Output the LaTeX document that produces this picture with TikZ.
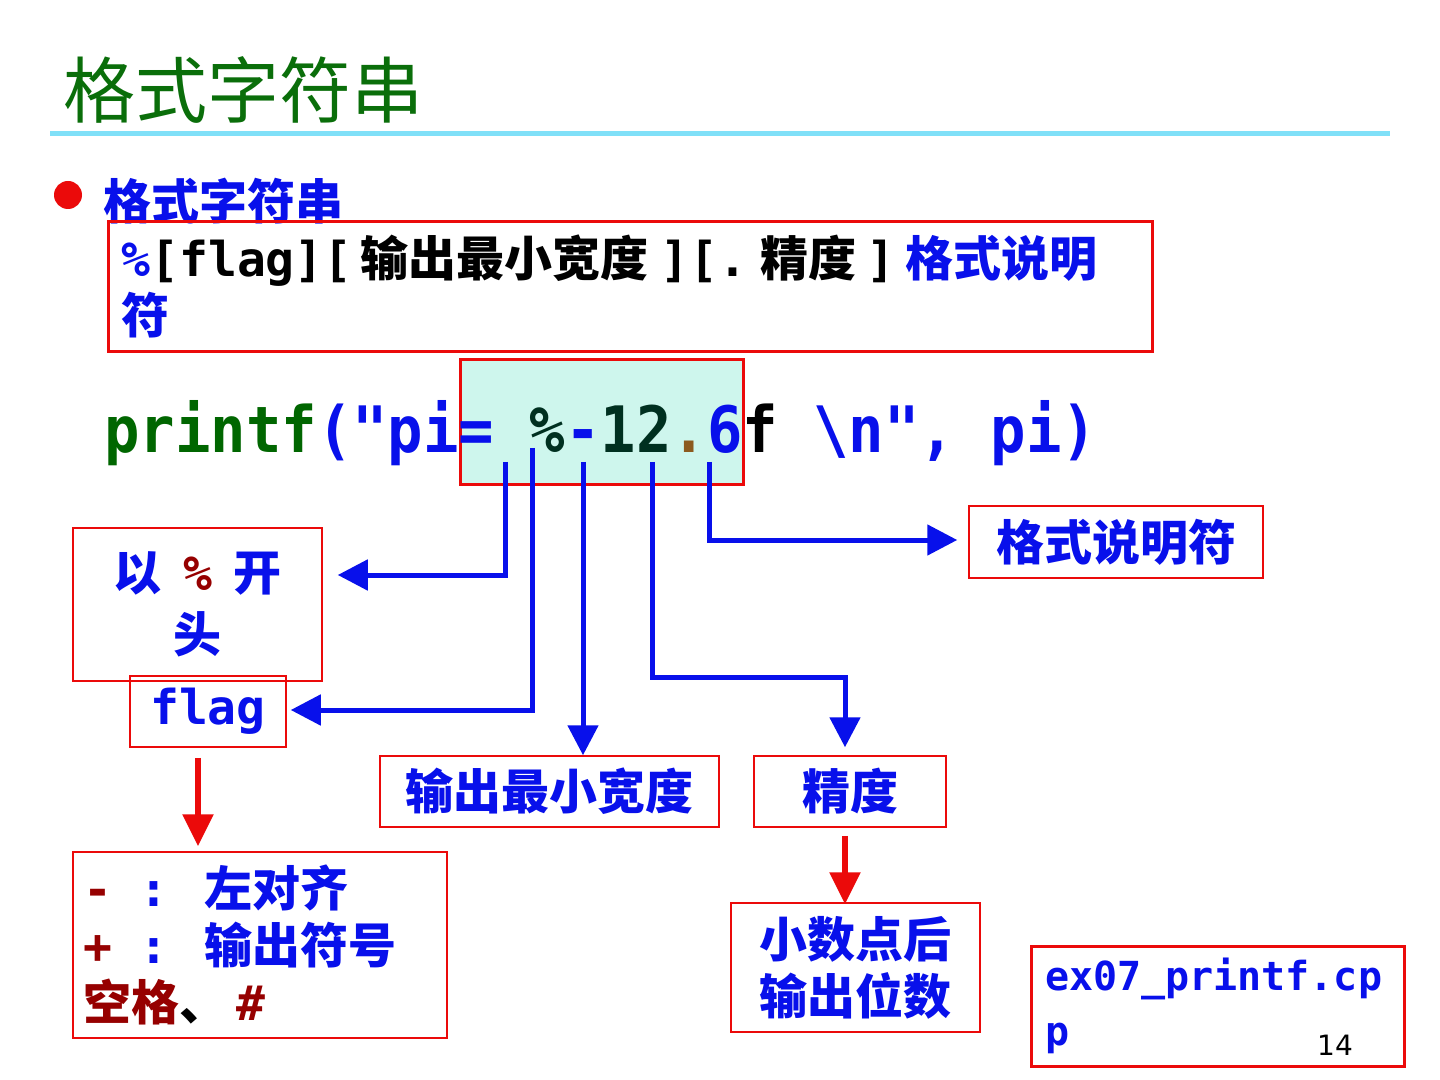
\documentclass[tikz,border=0pt]{standalone}
\usepackage{fontspec}
\setmainfont{Noto Sans CJK SC}
\setmonofont{DejaVu Sans Mono}
\newfontfamily\codefont{DejaVu Sans Mono}[FakeStretch=0.92]
\newfontfamily\numfont{DejaVu Sans}
\usetikzlibrary{arrows.meta,calc}
\definecolor{TitleClr}{RGB}{10,110,10}
\definecolor{RuleClr}{RGB}{128,224,248}
\definecolor{BlueClr}{RGB}{8,16,235}
\definecolor{RedClr}{RGB}{235,10,10}
\definecolor{MintClr}{RGB}{206,246,237}
\definecolor{CodeClr}{RGB}{0,102,0}
\definecolor{DarkClr}{RGB}{0,48,32}
\definecolor{BrownClr}{RGB}{140,90,30}
\definecolor{DarkRedClr}{RGB}{150,0,0}

\begin{document}
\begin{tikzpicture}[x=0.5pt,y=-0.5pt,
  lbl/.style={draw=RedClr,line width=0.75pt,inner sep=0pt,align=center,text=BlueClr,
    font=\bfseries\fontsize{24}{28.5}\selectfont},
  bluearr/.style={draw=BlueClr,line width=2.5pt,-{Triangle[length=15pt,width=15pt]}},
  redarr/.style={draw=RedClr,line width=2.75pt,-{Triangle[length=16pt,width=15pt]}}]
\fill[white] (0,0) rectangle (1440,1080);
\useasboundingbox (0,0) rectangle (1440,1080);

\node[anchor=west,inner sep=0pt,text=TitleClr,font=\fontsize{36}{40}\selectfont] (title) at (63,90) {格式字符串};
\draw[RuleClr,line width=2.5pt] (50,134) -- (1390,134);
\fill[RedClr] (68,195) circle (7pt);
\node[anchor=west,inner sep=0pt,text=BlueClr,font=\bfseries\fontsize{24}{28}\selectfont] (head) at (103,201) {格式字符串};

\node[lbl,line width=1.5pt,anchor=north west,minimum height=65pt,inner xsep=6.5pt,text width=509pt,align=left,text=black] (syntax) at (107,220)
  {{\ttfamily\color{BlueClr}\%}{\ttfamily[flag][}\hspace{4pt}输出最小宽度\hspace{6pt}{\ttfamily][.}\hspace{6.5pt}精度\hspace{5pt}{\ttfamily]}\hspace{5pt}\textcolor{BlueClr}{格式说明}\\\textcolor{BlueClr}{符}};

\node[draw=RedClr,line width=1.5pt,fill=MintClr,anchor=north west,minimum width=141.5pt,minimum height=62.5pt,inner sep=0pt] (spot) at (459,358) {};
\node[anchor=base west,inner sep=0pt,font=\codefont\bfseries\fontsize{32}{36}\selectfont] (code) at (104,452)
  {{\color{CodeClr}printf}{\color{BlueClr}("pi=} {\color{DarkClr}\%}{\color{BlueClr}-}{\color{DarkClr}12}{\color{BrownClr}.}{\color{BlueClr}6}f {\color{BlueClr}\textbackslash n", pi)}};

\coordinate (m1) at (505,462);
\coordinate (m2) at (532,448);
\coordinate (m3) at (583,462);
\coordinate (m4) at (652,462);
\coordinate (m5) at (709,462);

\node[lbl,minimum width=124.5pt,minimum height=76.5pt,font=\bfseries\fontsize{24}{31}\selectfont] (start) at (197.5,604.5)
  {以\hspace{11pt}{\ttfamily\color{DarkRedClr}\%}\hspace{11pt}开\\头};
\node[lbl,minimum width=78pt,minimum height=35.5pt,font=\ttfamily\bfseries\fontsize{24}{28.5}\selectfont] (flag) at (208,711.5) {flag};
\node[lbl,minimum width=169.5pt,minimum height=35.5pt] (width) at (549.5,791.5) {输出最小宽度};
\node[lbl,minimum width=96pt,minimum height=35.5pt] (prec) at (850,791.5) {精度};
\node[lbl,minimum width=147pt,minimum height=36pt] (spec) at (1116,542) {格式说明符};
\node[lbl,minimum height=93pt,inner xsep=5pt,text width=177pt,align=left] (flags) at (260,945)
  {{\ttfamily\color{DarkRedClr}-}\hspace{14pt}{\ttfamily:}\hspace{18pt}左对齐\\
   {\ttfamily\color{DarkRedClr}+}\hspace{14pt}{\ttfamily:}\hspace{18pt}输出符号\\
   \textcolor{DarkRedClr}{空格}\textcolor{black}{、}\hspace{5pt}{\ttfamily\color{DarkRedClr}\#}};
\node[lbl,minimum width=124.5pt,minimum height=64.5pt] (dec) at (855.5,967.5) {小数点后\\输出位数};
\node[lbl,line width=1.5pt,minimum height=60pt,inner xsep=7pt,text width=172.5pt,align=left,
  font=\ttfamily\bfseries\fontsize{20}{27.5}\selectfont] (file) at (1217.5,1006) {ex07\_printf.cp\\p};
\node[inner sep=0pt,font=\numfont\fontsize{14}{16}\selectfont] (page) at (1335,1045) {14};

\draw[bluearr] (m1) |- ($(start.east)+(15,-29.5)$);
\draw[bluearr] (m2) |- ($(flag.east)+(4,-1.5)$);
\draw[bluearr] (m3) -- (m3 |- width.north);
\draw[bluearr] (m4) |- ($(prec.north)+(-5,-78)$) -- ($(prec.north)+(-5,-8)$);
\draw[bluearr] (m5) |- ($(spec.west)+(-11,-2)$);
\draw[redarr] ($(flag.south)+(-10,10)$) -- ($(flag.south |- flags.north)+(-10,-5)$);
\draw[redarr] ($(prec.south)+(-5,8)$) -- ($(prec.south |- dec.north)+(-5,2)$);
\end{tikzpicture}
\end{document}
